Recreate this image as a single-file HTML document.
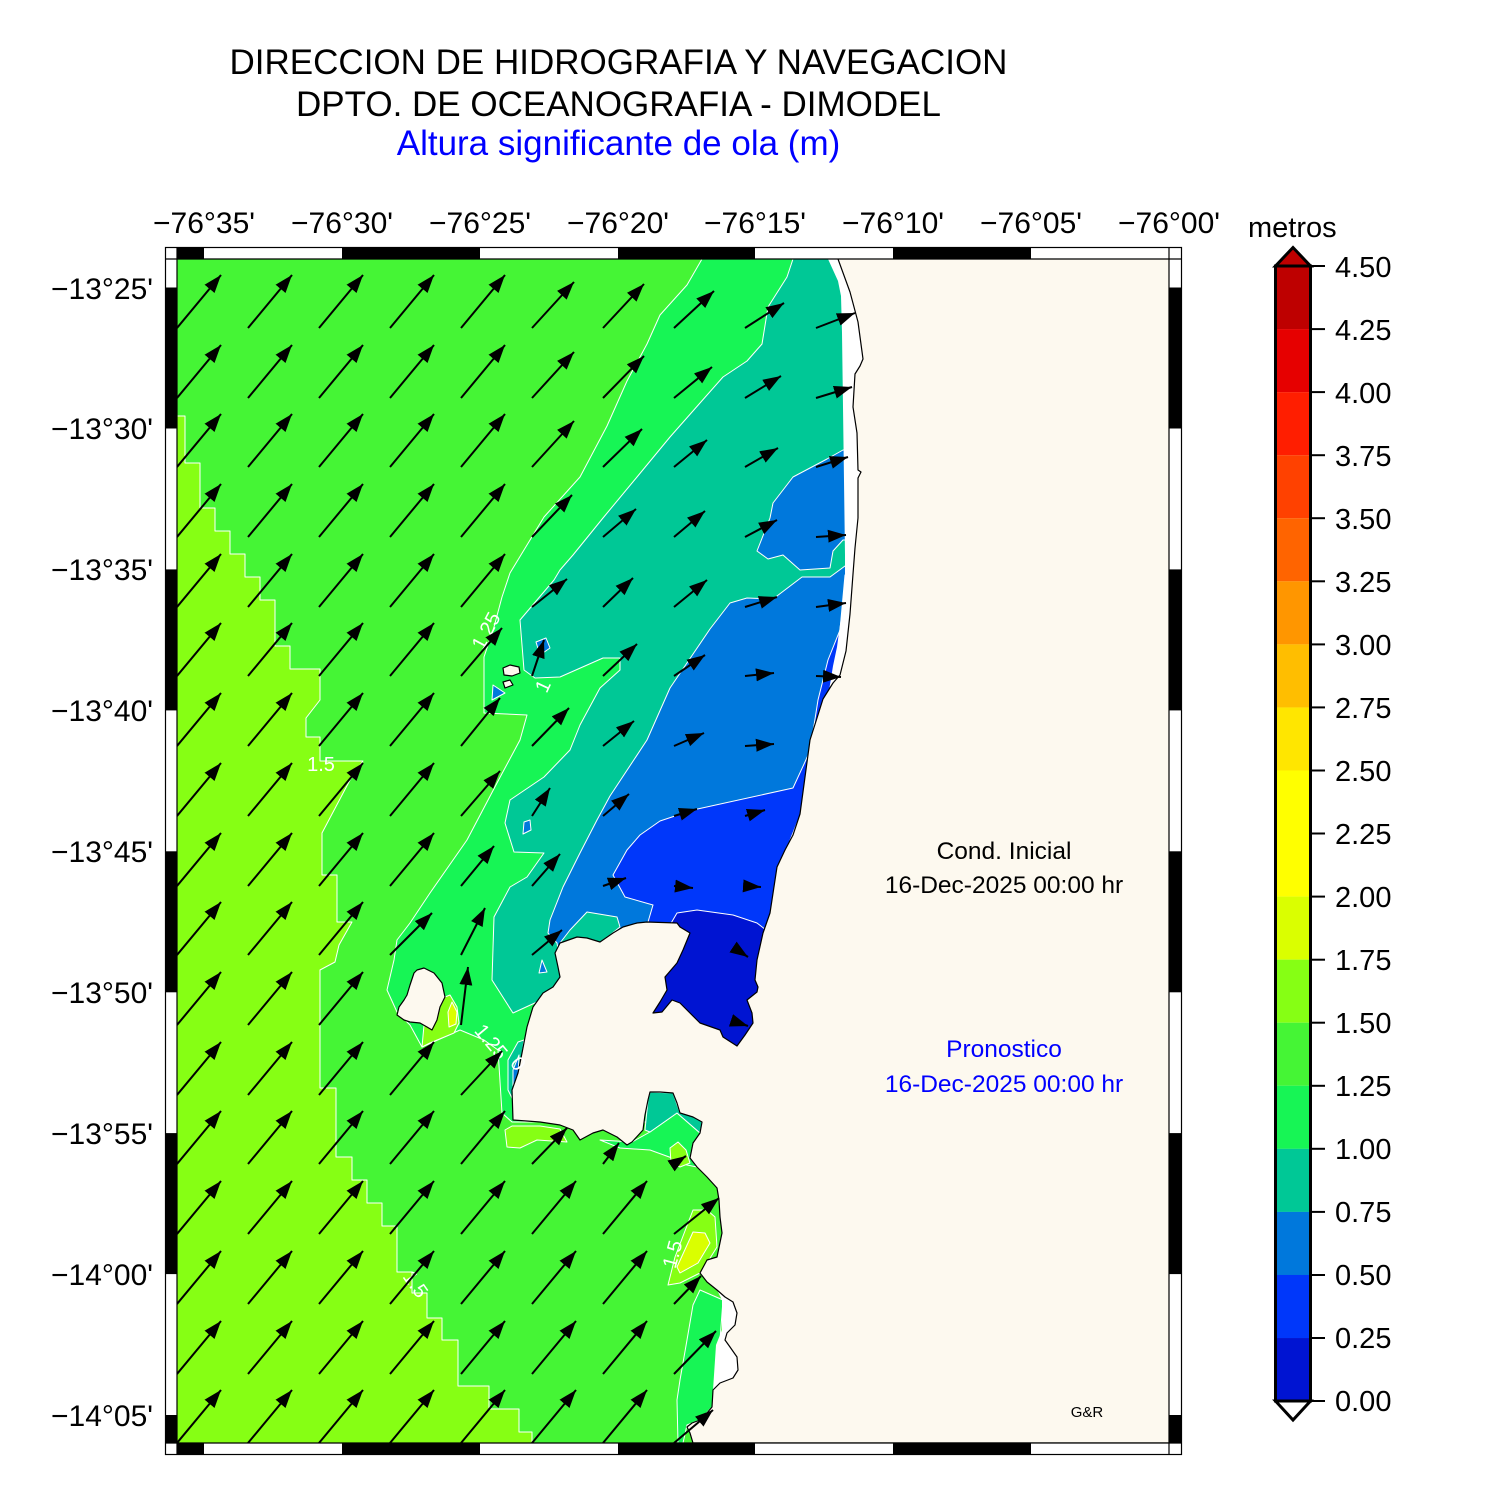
<!DOCTYPE html>
<html>
<head>
<meta charset="utf-8">
<style>
html,body{margin:0;padding:0;background:#fff;}
svg{display:block;}
text{font-family:"Liberation Sans",Arial,sans-serif;}
</style>
</head>
<body>
<svg width="1487" height="1500" viewBox="0 0 1487 1500" xmlns="http://www.w3.org/2000/svg">
<defs>
<clipPath id="mc"><rect x="177" y="259" width="992" height="1184"/></clipPath>
<marker id="ah" markerUnits="userSpaceOnUse" markerWidth="20" markerHeight="14" refX="18" refY="6.5" orient="auto">
<path d="M0,0 L18,6.5 L0,13 Z" fill="#000"/>
</marker>
<line id="sa" x1="0" y1="0" x2="44" y2="-53" stroke="#000" stroke-width="2" marker-end="url(#ah)"/>
</defs>

<!-- titles -->
<text x="618.5" y="74" font-size="35" text-anchor="middle" fill="#000">DIRECCION DE HIDROGRAFIA Y NAVEGACION</text>
<text x="618.5" y="116" font-size="35" text-anchor="middle" fill="#000">DPTO. DE OCEANOGRAFIA - DIMODEL</text>
<text x="618.5" y="155" font-size="35" text-anchor="middle" fill="#0000ff">Altura significante de ola (m)</text>

<!-- frame background -->
<rect x="165.5" y="247.5" width="1016" height="1207" fill="#fff" stroke="#000" stroke-width="1"/>

<g clip-path="url(#mc)">
<rect x="177" y="259" width="992" height="1184" fill="#45F535"/>
<g stroke="#fff" stroke-width="1" stroke-linejoin="round">
<!-- 1.5-1.75 -->
<polygon fill="#86FF14" points="177,416 185,416 185,463 200,463 200,508 215,508 215,531 230,531 230,554 245,554 245,577 260,577 260,600 275,600 275,646 290,646 290,669 320,669 320,700 306,718 306,737 320,737 320,761 363,761 350,780 322,833 322,875 337,875 337,922 352,922 339,945 335,962 320,970 320,1088 336,1088 336,1157 352,1157 352,1180 367,1180 367,1203 382,1203 382,1226 397,1226 397,1272 412,1272 412,1293 427,1293 427,1318 442,1318 442,1340 458,1340 458,1386 489,1386 489,1409 519,1409 519,1432 532,1432 532,1443 177,1443"/>
<!-- 1.0-1.25 -->
<polygon fill="#17F555" points="702,259 687,285 660,315 647,344 627,381 607,426 580,477 544,517 510,573 502,597 494,627 484,657 484,713 527,715 520,740 497,783 467,840 430,893 410,923 397,940 394,960 387,990 397,1012 410,1025 422,1047 460,1030 484,1040 498,1050 502,1113 512,1122 560,1122 1169,1122 1169,259"/>
<polygon fill="#17F555" points="812,259 813,267 825,266 835,278 835,259"/>
<!-- teal -->
<polygon fill="#00C896" points="793,259 787,277 768,307 762,344 747,361 723,377 700,403 670,437 637,477 603,518 573,555 560,570 554,580 520,620 524,670 535,678 560,677 603,658 620,658 620,670 600,688 580,725 570,750 544,777 510,800 505,823 514,852 544,853 527,877 510,887 494,917 492,980 513,1013 537,1002 553,987 900,987 900,259"/>
<!-- blue 0.5-0.75 -->
<polygon fill="#0078DC" points="850,450 843,450 827,459 793,477 773,503 770,518 757,551 768,559 783,555 800,570 830,568 833,551 843,540 850,540"/>
<polygon fill="#0078DC" points="850,566 845,566 830,577 802,577 773,599 747,598 730,603 710,629 670,688 647,740 610,796 597,820 580,853 563,887 550,920 548,933 557,943 560,960 900,960 900,566"/>
<polygon fill="#00C896" points="560,943 570,930 587,912 617,917 620,927 610,935 600,942"/>
<polygon fill="#0078DC" points="536,642 546,638 550,648 540,655"/>
<polygon fill="#0078DC" points="493,685 505,693 492,700"/>
<polygon fill="#0078DC" points="524,822 530,820 531,830 523,834"/>
<polygon fill="#0078DC" points="542,960 547,972 539,973"/>
<!-- blue 0.25-0.5 -->
<polygon fill="#0037FA" points="845,575 840,630 828,660 818,700 810,751 793,788 693,810 660,821 640,835 627,850 613,875 625,897 653,905 648,922 660,940 900,940 900,575"/>
<!-- blue 0-0.25 -->
<polygon fill="#0014D2" points="640,930 670,925 677,913 697,910 733,915 757,923 766,930 800,930 800,1060 640,1060"/>
<!-- patches -->
<polygon fill="#86FF14" points="450,995 457,1007 459,1023 454,1033 430,1043 422,1047 424,1025 437,1020 440,1007 445,997"/>
<polygon fill="#DAFF00" points="452,1002 457,1012 456,1024 449,1027 448,1012"/>
<polygon fill="#00C896" points="508,1060 518,1042 524,1040 520,1070 513,1100 508,1090"/>
<polygon fill="#0078DC" points="513,1070 519,1055 518,1078 513,1095"/>
<polygon fill="#86FF14" points="505,1130 507,1147 520,1148 537,1140 567,1142 560,1129 540,1126 512,1126"/>
<polygon fill="#17F555" points="600,1140 632,1142 650,1132 677,1113 700,1133 693,1143 690,1158 697,1167 687,1165 672,1158 650,1150 620,1148"/>
<polygon fill="#00C896" points="645,1130 648,1100 650,1092 673,1093 680,1113 693,1117 702,1122 700,1133 677,1113 650,1132"/>
<polygon fill="#86FF14" points="670,1148 678,1142 686,1150 690,1163 680,1167 671,1163"/>
<polygon fill="#86FF14" points="668,1285 675,1257 693,1210 707,1210 715,1217 717,1247 707,1263 700,1273 680,1283"/>
<polygon fill="#DAFF00" points="677,1267 693,1232 705,1233 710,1243 698,1263 680,1273"/>
<polygon fill="#17F555" points="693,1305 700,1290 723,1300 720,1340 715,1383 712,1407 700,1420 687,1425 683,1443 678,1443 677,1400 680,1380 687,1340"/>
</g>
<!-- no-data strip -->
<polygon fill="#fff" points="828,259 838,281 841,296 842,333 843,407 844,481 845,555 845,574 842,610 837,647 833,666 827,703 813,740 807,777 800,814 790,839 786,850 900,850 900,259"/>
<polygon fill="#fff" points="717,1290 740,1290 740,1390 713,1390 716,1345 722,1330 722,1300"/>
<!-- land -->
<g fill="#FDF9EF" stroke="#000" stroke-width="1.2" stroke-linejoin="round">
<polygon points="838,259 850,292 858,322 863,359 860,366 855,374 853,407 857,433 858,470 861,472 858,478 858,518 855,548 853,574 850,614 846,651 840,675 833,683 823,699 817,718 810,740 805,777 800,814 793,835 785,850 777,867 770,913 763,933 757,960 755,980 758,987 757,992 747,1000 752,1013 753,1023 745,1035 737,1046 723,1037 720,1030 700,1023 680,1003 672,1000 662,1012 653,1013 660,1002 667,990 665,977 677,963 683,950 690,933 680,927 677,923 647,922 637,923 623,927 613,933 600,942 587,938 577,937 560,943 555,953 558,967 560,977 553,987 543,993 533,1007 527,1027 522,1053 518,1073 512,1090 513,1120 540,1122 560,1125 573,1130 580,1140 593,1133 603,1130 617,1137 627,1145 632,1142 643,1130 645,1115 648,1100 650,1092 660,1092 673,1093 677,1103 680,1113 693,1117 702,1122 700,1133 693,1143 690,1158 697,1167 707,1177 717,1188 719,1200 720,1217 722,1233 717,1257 707,1260 700,1273 707,1282 717,1290 725,1297 733,1302 737,1313 735,1325 727,1333 725,1340 730,1347 737,1357 738,1370 733,1378 720,1383 713,1390 712,1407 707,1413 700,1420 692,1423 687,1427 690,1433 693,1443 1175,1443 1175,252 838,252"/>
<polygon points="417,970 424,968 434,973 442,983 445,997 440,1007 437,1020 432,1030 427,1027 420,1023 410,1022 404,1020 397,1015 399,1007 404,1000 407,995 410,985 414,973"/>
<polygon points="503,668 510,665 519,667 520,673 512,676 504,675"/>
<polygon points="503,682 510,680 513,685 505,688"/>
</g>

<!-- contour labels -->
<g fill="#fff" font-size="20" text-anchor="middle">
<text x="0" y="0" transform="translate(492,634) rotate(-62)">1.25</text>
<text x="0" y="0" transform="translate(549,689) rotate(-65)">1</text>
<text x="321" y="771">1.5</text>
<text x="0" y="0" transform="translate(410,1288) rotate(55)">1.5</text>
<text x="0" y="0" transform="translate(486,1046) rotate(50)">1.25</text>
<text x="0" y="0" transform="translate(513,1068) rotate(50)">0</text>
<text x="0" y="0" transform="translate(679,1256) rotate(-75)">1.5</text>
</g>

<!-- standard arrows -->
<g>
<use href="#sa" x="177" y="328"/><use href="#sa" x="248" y="328"/><use href="#sa" x="319" y="328"/><use href="#sa" x="390" y="328"/><use href="#sa" x="461" y="328"/>
<use href="#sa" x="177" y="398"/><use href="#sa" x="248" y="398"/><use href="#sa" x="319" y="398"/><use href="#sa" x="390" y="398"/><use href="#sa" x="461" y="398"/>
<use href="#sa" x="177" y="467"/><use href="#sa" x="248" y="467"/><use href="#sa" x="319" y="467"/><use href="#sa" x="390" y="467"/><use href="#sa" x="461" y="467"/>
<use href="#sa" x="177" y="537"/><use href="#sa" x="248" y="537"/><use href="#sa" x="319" y="537"/><use href="#sa" x="390" y="537"/><use href="#sa" x="461" y="537"/>
<use href="#sa" x="177" y="607"/><use href="#sa" x="248" y="607"/><use href="#sa" x="319" y="607"/><use href="#sa" x="390" y="607"/><use href="#sa" x="461" y="607"/>
<use href="#sa" x="177" y="676"/><use href="#sa" x="248" y="676"/><use href="#sa" x="319" y="676"/><use href="#sa" x="390" y="676"/>
<use href="#sa" x="177" y="746"/><use href="#sa" x="248" y="746"/><use href="#sa" x="319" y="746"/><use href="#sa" x="390" y="746"/>
<use href="#sa" x="177" y="816"/><use href="#sa" x="248" y="816"/><use href="#sa" x="319" y="816"/><use href="#sa" x="390" y="816"/>
<use href="#sa" x="177" y="886"/><use href="#sa" x="248" y="886"/><use href="#sa" x="319" y="886"/><use href="#sa" x="390" y="886"/>
<use href="#sa" x="177" y="955"/><use href="#sa" x="248" y="955"/><use href="#sa" x="319" y="955"/>
<use href="#sa" x="177" y="1025"/><use href="#sa" x="248" y="1025"/><use href="#sa" x="319" y="1025"/>
<use href="#sa" x="177" y="1095"/><use href="#sa" x="248" y="1095"/><use href="#sa" x="319" y="1095"/><use href="#sa" x="390" y="1095"/>
<use href="#sa" x="177" y="1164"/><use href="#sa" x="248" y="1164"/><use href="#sa" x="319" y="1164"/><use href="#sa" x="390" y="1164"/><use href="#sa" x="461" y="1164"/>
<use href="#sa" x="177" y="1234"/><use href="#sa" x="248" y="1234"/><use href="#sa" x="319" y="1234"/><use href="#sa" x="390" y="1234"/><use href="#sa" x="461" y="1234"/><use href="#sa" x="532" y="1234"/><use href="#sa" x="603" y="1234"/>
<use href="#sa" x="177" y="1304"/><use href="#sa" x="248" y="1304"/><use href="#sa" x="319" y="1304"/><use href="#sa" x="390" y="1304"/><use href="#sa" x="461" y="1304"/><use href="#sa" x="532" y="1304"/><use href="#sa" x="603" y="1304"/>
<use href="#sa" x="177" y="1374"/><use href="#sa" x="248" y="1374"/><use href="#sa" x="319" y="1374"/><use href="#sa" x="390" y="1374"/><use href="#sa" x="461" y="1374"/><use href="#sa" x="532" y="1374"/><use href="#sa" x="603" y="1374"/>
<use href="#sa" x="177" y="1443"/><use href="#sa" x="248" y="1443"/><use href="#sa" x="319" y="1443"/><use href="#sa" x="390" y="1443"/><use href="#sa" x="461" y="1443"/><use href="#sa" x="532" y="1443"/><use href="#sa" x="603" y="1443"/>
</g>
<!-- variable arrows -->
<g stroke="#000" stroke-width="2" marker-end="url(#ah)">
<line x1="532" y1="328" x2="574" y2="282"/><line x1="603" y1="328" x2="644" y2="284"/><line x1="674" y1="328" x2="714" y2="291"/><line x1="745" y1="328" x2="784" y2="303"/><line x1="816" y1="328" x2="855" y2="313"/>
<line x1="532" y1="398" x2="574" y2="352"/><line x1="603" y1="398" x2="644" y2="356"/><line x1="674" y1="398" x2="712" y2="367"/><line x1="745" y1="398" x2="781" y2="376"/><line x1="816" y1="398" x2="852" y2="387"/>
<line x1="532" y1="467" x2="574" y2="421"/><line x1="603" y1="467" x2="642" y2="429"/><line x1="674" y1="467" x2="707" y2="440"/><line x1="745" y1="467" x2="778" y2="448"/><line x1="816" y1="467" x2="848" y2="457"/>
<line x1="532" y1="537" x2="572" y2="495"/><line x1="603" y1="537" x2="636" y2="509"/><line x1="674" y1="537" x2="705" y2="511"/><line x1="745" y1="537" x2="777" y2="520"/><line x1="816" y1="537" x2="846" y2="535"/>
<line x1="532" y1="607" x2="567" y2="579"/><line x1="603" y1="607" x2="633" y2="578"/><line x1="674" y1="607" x2="707" y2="580"/><line x1="745" y1="607" x2="777" y2="597"/><line x1="816" y1="607" x2="846" y2="603"/>
<line x1="461" y1="676" x2="502" y2="628"/><line x1="532" y1="676" x2="544" y2="640"/><line x1="603" y1="676" x2="637" y2="644"/><line x1="674" y1="676" x2="705" y2="655"/><line x1="745" y1="676" x2="774" y2="673"/><line x1="816" y1="676" x2="841" y2="677"/>
<line x1="461" y1="746" x2="500" y2="698"/><line x1="532" y1="746" x2="569" y2="708"/><line x1="603" y1="746" x2="634" y2="721"/><line x1="674" y1="746" x2="704" y2="733"/><line x1="745" y1="746" x2="774" y2="744"/>
<line x1="461" y1="816" x2="500" y2="771"/><line x1="532" y1="816" x2="550" y2="788"/><line x1="603" y1="816" x2="629" y2="794"/><line x1="674" y1="816" x2="697" y2="809"/><line x1="745" y1="816" x2="765" y2="810"/>
<line x1="461" y1="886" x2="494" y2="846"/><line x1="532" y1="886" x2="560" y2="854"/><line x1="603" y1="886" x2="626" y2="878"/><line x1="674" y1="886" x2="693" y2="888"/><line x1="745" y1="886" x2="761" y2="887"/>
<line x1="390" y1="955" x2="432" y2="913"/><line x1="461" y1="955" x2="485" y2="908"/><line x1="532" y1="955" x2="562" y2="930"/><line x1="745" y1="955" x2="748" y2="957"/>
<line x1="461" y1="1025" x2="468" y2="967"/><line x1="745" y1="1025" x2="748" y2="1026"/>
<line x1="461" y1="1095" x2="502" y2="1051"/>
<line x1="532" y1="1164" x2="567" y2="1128"/><line x1="603" y1="1164" x2="619" y2="1143"/><line x1="674" y1="1164" x2="686" y2="1156"/>
<line x1="674" y1="1234" x2="719" y2="1198"/>
<line x1="674" y1="1304" x2="701" y2="1276"/>
<line x1="674" y1="1374" x2="716" y2="1331"/>
<line x1="674" y1="1443" x2="713" y2="1410"/>
</g>

<!-- info text -->
<g font-size="24.5" text-anchor="middle">
<text x="1004" y="859" fill="#000">Cond. Inicial</text>
<text x="1004" y="893" fill="#000">16-Dec-2025 00:00 hr</text>
<text x="1004" y="1057" fill="#0000ff">Pronostico</text>
<text x="1004" y="1092" fill="#0000ff">16-Dec-2025 00:00 hr</text>
</g>
<text x="1087" y="1417" font-size="15" text-anchor="middle" fill="#000">G&amp;R</text>
</g>

<!-- frame bars -->
<g fill="#000">
<rect x="177" y="247" width="27" height="12"/><rect x="342" y="247" width="138" height="12"/><rect x="618" y="247" width="137" height="12"/><rect x="893" y="247" width="138" height="12"/>
<rect x="177" y="1443" width="27" height="12"/><rect x="342" y="1443" width="138" height="12"/><rect x="618" y="1443" width="137" height="12"/><rect x="893" y="1443" width="138" height="12"/>
<rect x="165" y="287.5" width="12" height="141"/><rect x="165" y="569.4" width="12" height="141"/><rect x="165" y="851.3" width="12" height="141"/><rect x="165" y="1133.1" width="12" height="141"/><rect x="165" y="1415" width="12" height="28"/>
<rect x="1169" y="287.5" width="13" height="141"/><rect x="1169" y="569.4" width="13" height="141"/><rect x="1169" y="851.3" width="13" height="141"/><rect x="1169" y="1133.1" width="13" height="141"/><rect x="1169" y="1415" width="13" height="28"/>
</g>
<g stroke="#000" stroke-width="1.2" fill="none">
<rect x="165.5" y="247.5" width="1016" height="1207"/>
<line x1="177" y1="247" x2="177" y2="1455"/>
<line x1="1169" y1="247" x2="1169" y2="1455"/>
<line x1="165" y1="259" x2="1182" y2="259"/>
<line x1="165" y1="1443" x2="1182" y2="1443"/>
</g>

<!-- axis labels -->
<g font-size="30" text-anchor="middle" fill="#000">
<text x="204" y="233">−76°35'</text>
<text x="342" y="233">−76°30'</text>
<text x="480" y="233">−76°25'</text>
<text x="618" y="233">−76°20'</text>
<text x="755" y="233">−76°15'</text>
<text x="893" y="233">−76°10'</text>
<text x="1031" y="233">−76°05'</text>
<text x="1169" y="233">−76°00'</text>
</g>
<g font-size="30" text-anchor="end" fill="#000">
<text x="153" y="299">−13°25'</text>
<text x="153" y="439">−13°30'</text>
<text x="153" y="580">−13°35'</text>
<text x="153" y="721">−13°40'</text>
<text x="153" y="862">−13°45'</text>
<text x="153" y="1003">−13°50'</text>
<text x="153" y="1144">−13°55'</text>
<text x="153" y="1285">−14°00'</text>
<text x="153" y="1426">−14°05'</text>
</g>

<!-- colorbar -->
<text x="1248" y="237" font-size="29" fill="#000">metros</text>
<g>
<rect x="1276" y="266" width="34" height="63.1" fill="#BE0000"/>
<rect x="1276" y="329.06" width="34" height="63.1" fill="#E60000"/>
<rect x="1276" y="392.12" width="34" height="63.1" fill="#FF1E00"/>
<rect x="1276" y="455.18" width="34" height="63.1" fill="#FF4100"/>
<rect x="1276" y="518.24" width="34" height="63.1" fill="#FF6400"/>
<rect x="1276" y="581.3" width="34" height="63.1" fill="#FF9600"/>
<rect x="1276" y="644.36" width="34" height="63.1" fill="#FFBE00"/>
<rect x="1276" y="707.42" width="34" height="63.1" fill="#FFE600"/>
<rect x="1276" y="770.48" width="34" height="126.2" fill="#FFFF00"/>
<rect x="1276" y="896.6" width="34" height="63.1" fill="#DAFF00"/>
<rect x="1276" y="959.66" width="34" height="63.1" fill="#86FF14"/>
<rect x="1276" y="1022.72" width="34" height="63.1" fill="#45F535"/>
<rect x="1276" y="1085.78" width="34" height="63.1" fill="#17F555"/>
<rect x="1276" y="1148.84" width="34" height="63.1" fill="#00C896"/>
<rect x="1276" y="1211.9" width="34" height="63.1" fill="#0078DC"/>
<rect x="1276" y="1274.96" width="34" height="63.1" fill="#0037FA"/>
<rect x="1276" y="1338.02" width="34" height="62.98" fill="#0014D2"/>
</g>
<polygon points="1275.5,266 1293,247.5 1310.5,266" fill="#BE0000" stroke="#000" stroke-width="3" stroke-linejoin="miter"/>
<polygon points="1275.5,1401 1293,1420 1310.5,1401" fill="#fff" stroke="#000" stroke-width="3" stroke-linejoin="miter"/>
<rect x="1275.5" y="266" width="35" height="1135" fill="none" stroke="#000" stroke-width="3"/>
<g stroke="#000" stroke-width="2">
<line x1="1311" y1="266" x2="1325" y2="266"/><line x1="1311" y1="329.1" x2="1325" y2="329.1"/><line x1="1311" y1="392.1" x2="1325" y2="392.1"/><line x1="1311" y1="455.2" x2="1325" y2="455.2"/><line x1="1311" y1="518.2" x2="1325" y2="518.2"/><line x1="1311" y1="581.3" x2="1325" y2="581.3"/><line x1="1311" y1="644.4" x2="1325" y2="644.4"/><line x1="1311" y1="707.4" x2="1325" y2="707.4"/><line x1="1311" y1="770.5" x2="1325" y2="770.5"/><line x1="1311" y1="833.5" x2="1325" y2="833.5"/><line x1="1311" y1="896.6" x2="1325" y2="896.6"/><line x1="1311" y1="959.7" x2="1325" y2="959.7"/><line x1="1311" y1="1022.7" x2="1325" y2="1022.7"/><line x1="1311" y1="1085.8" x2="1325" y2="1085.8"/><line x1="1311" y1="1148.8" x2="1325" y2="1148.8"/><line x1="1311" y1="1211.9" x2="1325" y2="1211.9"/><line x1="1311" y1="1275" x2="1325" y2="1275"/><line x1="1311" y1="1338" x2="1325" y2="1338"/><line x1="1311" y1="1401" x2="1325" y2="1401"/>
</g>
<g font-size="29" fill="#000">
<text x="1335" y="277">4.50</text>
<text x="1335" y="340">4.25</text>
<text x="1335" y="403">4.00</text>
<text x="1335" y="466">3.75</text>
<text x="1335" y="529">3.50</text>
<text x="1335" y="592">3.25</text>
<text x="1335" y="655">3.00</text>
<text x="1335" y="718">2.75</text>
<text x="1335" y="781">2.50</text>
<text x="1335" y="844">2.25</text>
<text x="1335" y="907">2.00</text>
<text x="1335" y="970">1.75</text>
<text x="1335" y="1033">1.50</text>
<text x="1335" y="1096">1.25</text>
<text x="1335" y="1159">1.00</text>
<text x="1335" y="1222">0.75</text>
<text x="1335" y="1285">0.50</text>
<text x="1335" y="1348">0.25</text>
<text x="1335" y="1411">0.00</text>
</g>
</svg>
</body>
</html>
